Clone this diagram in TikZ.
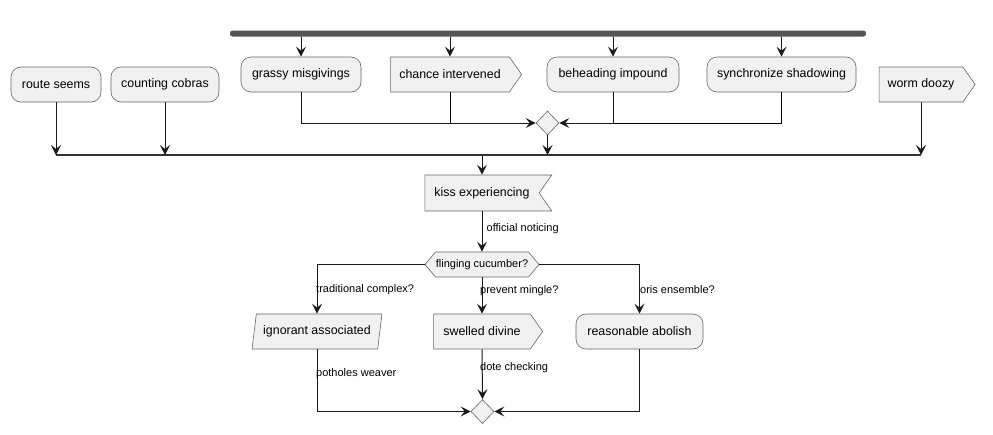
\documentclass[tikz,border=0pt]{standalone}
\usepackage{fontspec}
\setmainfont{Liberation Sans}
\usepackage{xcolor}
\usetikzlibrary{shapes.geometric,shapes.symbols,arrows.meta}

\definecolor{boxfill}{HTML}{F1F1F1}
\definecolor{boxline}{HTML}{666666}
\definecolor{barfill}{HTML}{555555}

\tikzset{
  act/.style={rectangle, rounded corners=10pt, draw=boxline, fill=boxfill, line width=0.6pt,
    minimum height=35pt, inner sep=0pt, font=\fontsize{12.4}{14}\selectfont},
  sendbox/.style={signal, signal to=east, signal pointer angle=110, draw=boxline, fill=boxfill,
    line width=0.6pt, minimum height=35pt, inner sep=0pt, font=\fontsize{12.4}{14}\selectfont},
  recvbox/.style={signal, signal to=nowhere, signal from=east, signal pointer angle=110, draw=boxline,
    fill=boxfill, line width=0.6pt, minimum height=36pt, inner sep=0pt, font=\fontsize{12.4}{14}\selectfont},
  iobox/.style={trapezium, trapezium left angle=72, trapezium right angle=108, trapezium stretches=true,
    draw=boxline, fill=boxfill, line width=0.6pt, minimum height=35pt, inner sep=0pt,
    font=\fontsize{12.4}{14}\selectfont},
  ask/.style={signal, signal to=west and east, signal pointer angle=100, draw=boxline, fill=boxfill,
    line width=0.6pt, minimum height=25pt, inner sep=0pt, font=\fontsize{11}{13}\selectfont},
  merge/.style={diamond, draw=boxline, fill=boxfill, line width=0.6pt, minimum width=23pt,
    minimum height=24pt, inner sep=0pt},
  forkbar/.style={rectangle, rounded corners=2.5pt, fill=barfill, minimum height=6pt, inner sep=0pt},
  flow/.style={-{Stealth[length=10pt,width=10pt,inset=4pt]}, line width=1pt, draw=black!90},
  lbl/.style={font=\fontsize{11}{13}\selectfont, inner sep=0pt, anchor=west}
}

\begin{document}
\begin{tikzpicture}[x=1pt,y=-1pt]
        \useasboundingbox (0,0) rectangle (993,434);
        % Fork
        \node[forkbar, minimum width=636pt] (fork) at (548,33.5) {};
        \node[act, minimum width=120pt] (grassy) at (301,74.5) {grassy misgivings};
        \node[sendbox, minimum width=131pt] (chance) at (450,74.5) {chance intervened};
        \node[act, minimum width=132pt] (beheading) at (613,74.5) {beheading impound};
        \node[act, minimum width=149pt] (synch) at (781.5,74.5) {synchronize shadowing};
        \node[merge] (m1) at (547.5,123) {};
        % Side activities
        \node[act, minimum width=90pt] (route) at (56,84.5) {route seems};
        \node[act, minimum width=108pt] (counting) at (165,84.5) {counting cobras};
        \node[sendbox, minimum width=96pt] (worm) at (921,84.5) {worm doozy};
        % Join
        \coordinate (joinL) at (56,155);
        \coordinate (joinR) at (921,155);
        % Middle
        \node[recvbox, minimum width=127pt] (kiss) at (482,193) {kiss experiencing};
        \node[ask, minimum width=114pt] (fling) at (482,264.5) {flinging cucumber?};
        % Branches
        \node[iobox, minimum width=130pt] (ignorant) at (317,331.5) {ignorant associated};
        \node[sendbox, minimum width=109pt] (swelled) at (482,331.5) {swelled divine};
        \node[act, minimum width=127pt] (reasonable) at (639.5,331.5) {reasonable abolish};
        \node[merge] (m2) at (482.5,411.5) {};
        % Edges
        \draw[flow] (fork.south -| grassy.north) -- (grassy.north);
        \draw[flow] (fork.south -| chance.north) -- (chance.north);
        \draw[flow] (fork.south -| beheading.north) -- (beheading.north);
        \draw[flow] (fork.south -| synch.north) -- (synch.north);
        \draw[flow] (grassy.south) |- (m1.west);
        \draw[line width=1pt] (chance.south) -- (chance.south |- m1);
        \draw[flow] (beheading.south) |- (m1.east);
        \draw[line width=1pt] (synch.south) |- (beheading.south |- m1);
        \draw[line width=1.5pt, draw=black!80] (joinL) -- (joinR);
        \draw[flow] (route.south) -- (route.south |- joinL);
        \draw[flow] (counting.south) -- (counting.south |- joinL);
        \draw[flow] (m1.south) -- (m1.south |- joinL);
        \draw[flow] (worm.south) -- (worm.south |- joinL);
        \draw[flow] (kiss.north |- joinL) -- (kiss.north);
        \draw[flow] (kiss.south) -- (fling.north);
        \draw[flow] (fling.west) -| (ignorant.north);
        \draw[flow] (fling.south) -- (swelled.north);
        \draw[flow] (fling.east) -| (reasonable.north);
        \draw[flow] (ignorant.south) |- (m2.west);
        \draw[flow] (swelled.south) -- (m2.north);
        \draw[flow] (reasonable.south) |- (m2.east);
        % Labels
        \node[lbl] (l1) at (486.5,229) {official noticing};
        \node[lbl] (l2) at (316,290) {traditional complex?};
        \node[lbl] (l3) at (480,291) {prevent mingle?};
        \node[lbl] (l4) at (640,290) {oris ensemble?};
        \node[lbl] (l5) at (316,374) {potholes weaver};
        \node[lbl] (l6) at (480,368) {dote checking};
    \end{tikzpicture}
\end{document}
